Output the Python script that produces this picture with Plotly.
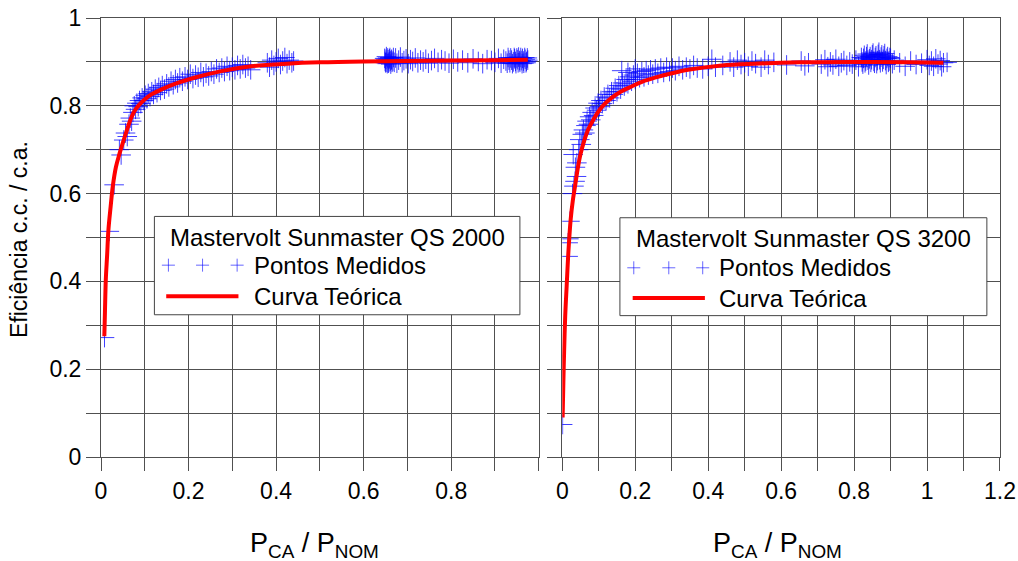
import plotly.graph_objects as go

# ---------------- data ----------------
# Left: Mastervolt Sunmaster QS 2000
curve_l_x = [0.0076, 0.009, 0.011, 0.014, 0.017, 0.022, 0.027, 0.034, 0.042, 0.05, 0.057,
             0.066, 0.076, 0.087, 0.099, 0.115, 0.137, 0.175, 0.213, 0.275, 0.343, 0.426,
             0.5, 0.6, 0.7, 0.8, 0.9, 0.975]
curve_l_y = [0.275, 0.33, 0.404, 0.46, 0.518, 0.57, 0.617, 0.66, 0.69, 0.716, 0.738,
             0.765, 0.787, 0.802, 0.814, 0.826, 0.837, 0.852, 0.864, 0.879, 0.89, 0.896,
             0.899, 0.901, 0.902, 0.903, 0.904, 0.905]

meas_l = [
    (0.008, 0.272), (0.019, 0.514), (0.030, 0.620), (0.042, 0.700), (0.046, 0.688),
    (0.052, 0.722), (0.056, 0.738), (0.060, 0.730), (0.064, 0.758), (0.067, 0.772),
    (0.070, 0.765), (0.073, 0.785), (0.076, 0.800), (0.079, 0.792), (0.082, 0.806),
    (0.085, 0.798), (0.088, 0.812), (0.091, 0.805), (0.094, 0.818), (0.098, 0.812),
    (0.101, 0.824), (0.105, 0.816), (0.108, 0.828), (0.112, 0.821), (0.116, 0.832),
    (0.120, 0.826), (0.124, 0.838), (0.128, 0.830), (0.132, 0.842), (0.136, 0.835),
    (0.140, 0.846), (0.145, 0.838), (0.150, 0.850), (0.155, 0.843), (0.160, 0.856),
    (0.165, 0.848), (0.170, 0.860), (0.175, 0.852), (0.180, 0.864), (0.186, 0.856),
    (0.192, 0.866), (0.198, 0.860), (0.204, 0.872), (0.210, 0.862), (0.216, 0.870),
    (0.222, 0.865), (0.228, 0.876), (0.234, 0.866), (0.240, 0.874), (0.246, 0.868),
    (0.252, 0.878), (0.258, 0.872), (0.264, 0.884), (0.270, 0.876), (0.276, 0.886),
    (0.282, 0.878), (0.288, 0.890), (0.294, 0.880), (0.300, 0.888), (0.306, 0.882),
    (0.312, 0.892), (0.318, 0.884), (0.324, 0.894), (0.330, 0.886), (0.336, 0.890),
    (0.342, 0.882), (0.380, 0.898), (0.385, 0.888), (0.390, 0.904), (0.395, 0.892),
    (0.400, 0.900), (0.405, 0.908), (0.410, 0.894), (0.415, 0.902), (0.420, 0.910),
    (0.425, 0.896), (0.430, 0.904), (0.436, 0.898), (0.440, 0.902),
    (0.648, 0.908), (0.649, 0.901), (0.650, 0.898), (0.651, 0.906), (0.652, 0.912),
    (0.653, 0.899), (0.654, 0.896), (0.655, 0.909), (0.656, 0.905), (0.657, 0.897),
    (0.658, 0.900), (0.659, 0.907), (0.660, 0.910), (0.661, 0.902), (0.662, 0.895),
    (0.663, 0.904), (0.664, 0.906), (0.665, 0.899), (0.667, 0.902), (0.668, 0.910),
    (0.670, 0.899), (0.673, 0.909), (0.676, 0.897), (0.680, 0.904), (0.684, 0.911),
    (0.688, 0.898), (0.692, 0.903), (0.697, 0.907), (0.702, 0.896), (0.707, 0.905),
    (0.712, 0.901), (0.718, 0.909), (0.724, 0.898), (0.730, 0.904), (0.736, 0.900),
    (0.742, 0.906), (0.748, 0.897), (0.755, 0.903), (0.762, 0.908), (0.770, 0.899),
    (0.778, 0.905), (0.786, 0.902), (0.795, 0.897), (0.805, 0.906), (0.815, 0.900),
    (0.826, 0.904), (0.838, 0.898), (0.850, 0.907), (0.862, 0.901), (0.872, 0.896),
    (0.882, 0.905), (0.892, 0.903), (0.900, 0.899), (0.908, 0.908), (0.914, 0.897),
    (0.920, 0.906), (0.925, 0.902), (0.928, 0.897), (0.930, 0.910), (0.932, 0.904),
    (0.934, 0.898), (0.936, 0.909), (0.938, 0.904), (0.940, 0.896), (0.942, 0.900),
    (0.944, 0.910), (0.945, 0.907), (0.947, 0.901), (0.948, 0.896), (0.950, 0.909),
    (0.951, 0.905), (0.953, 0.898), (0.954, 0.911), (0.956, 0.903), (0.957, 0.899),
    (0.959, 0.910), (0.960, 0.903), (0.962, 0.896), (0.963, 0.908), (0.965, 0.902),
    (0.966, 0.897), (0.968, 0.910), (0.969, 0.906), (0.971, 0.898), (0.972, 0.901),
    (0.974, 0.909), (0.975, 0.904),
]

# Right: Mastervolt Sunmaster QS 3200
curve_r_x = [0.001, 0.003, 0.005, 0.008, 0.012, 0.017, 0.023, 0.029, 0.035, 0.042, 0.05,
             0.06, 0.071, 0.085, 0.099, 0.115, 0.135, 0.16, 0.19, 0.22, 0.254, 0.3, 0.345,
             0.437, 0.528, 0.65, 0.8, 0.95, 1.045]
curve_r_y = [0.09, 0.17, 0.238, 0.32, 0.389, 0.47, 0.541, 0.585, 0.617, 0.655, 0.69,
             0.72, 0.746, 0.768, 0.787, 0.803, 0.818, 0.832, 0.844, 0.855, 0.864, 0.874,
             0.882, 0.892, 0.896, 0.899, 0.9, 0.899, 0.898]

meas_r = [
    (0.001, 0.074), (0.016, 0.457), (0.016, 0.488), (0.018, 0.497), (0.021, 0.537),
    (0.028, 0.600), (0.032, 0.617), (0.035, 0.628), (0.039, 0.639), (0.036, 0.660),
    (0.040, 0.670), (0.030, 0.689), (0.045, 0.700), (0.048, 0.723), (0.052, 0.712),
    (0.055, 0.735), (0.058, 0.745), (0.062, 0.738), (0.065, 0.755), (0.068, 0.765),
    (0.072, 0.758), (0.075, 0.775), (0.078, 0.768), (0.082, 0.785), (0.086, 0.778),
    (0.090, 0.795), (0.094, 0.790), (0.098, 0.806), (0.102, 0.798), (0.106, 0.812),
    (0.110, 0.805), (0.115, 0.820), (0.120, 0.812), (0.125, 0.826), (0.130, 0.818),
    (0.135, 0.832), (0.140, 0.826), (0.145, 0.840), (0.150, 0.832), (0.155, 0.846),
    (0.160, 0.838), (0.163, 0.880), (0.165, 0.852), (0.170, 0.845), (0.175, 0.860),
    (0.180, 0.850), (0.180, 0.876), (0.185, 0.866), (0.190, 0.856), (0.195, 0.870),
    (0.200, 0.860), (0.200, 0.884), (0.206, 0.874), (0.212, 0.864), (0.218, 0.878),
    (0.224, 0.866), (0.230, 0.880), (0.236, 0.870), (0.242, 0.882), (0.248, 0.872),
    (0.255, 0.884), (0.262, 0.874), (0.270, 0.886), (0.278, 0.876), (0.286, 0.888),
    (0.294, 0.878), (0.302, 0.886), (0.310, 0.880), (0.320, 0.890), (0.330, 0.882),
    (0.340, 0.888), (0.350, 0.884), (0.360, 0.892), (0.370, 0.886), (0.385, 0.884),
    (0.400, 0.890), (0.410, 0.906), (0.420, 0.888),
    (0.440, 0.892), (0.460, 0.900), (0.470, 0.888), (0.480, 0.904), (0.490, 0.894),
    (0.500, 0.898), (0.510, 0.890), (0.520, 0.902), (0.530, 0.896), (0.545, 0.888),
    (0.555, 0.904), (0.565, 0.894), (0.580, 0.899), (0.615, 0.893), (0.655, 0.902),
    (0.665, 0.891), (0.675, 0.898), (0.710, 0.895), (0.720, 0.905), (0.728, 0.889),
    (0.735, 0.900), (0.742, 0.893), (0.750, 0.906), (0.758, 0.890), (0.765, 0.898),
    (0.772, 0.903), (0.780, 0.892), (0.788, 0.900), (0.795, 0.895), (0.805, 0.904),
    (0.812, 0.889),
    (0.820, 0.910), (0.822, 0.900), (0.824, 0.895), (0.826, 0.908), (0.828, 0.915),
    (0.830, 0.898), (0.832, 0.902), (0.834, 0.912), (0.836, 0.918), (0.838, 0.904),
    (0.840, 0.893), (0.842, 0.907), (0.844, 0.912), (0.846, 0.899), (0.848, 0.905),
    (0.850, 0.916), (0.852, 0.920), (0.854, 0.901), (0.856, 0.897), (0.858, 0.910),
    (0.860, 0.914), (0.862, 0.896), (0.864, 0.903), (0.866, 0.917), (0.868, 0.922),
    (0.870, 0.905), (0.872, 0.898), (0.874, 0.911), (0.876, 0.916), (0.878, 0.900),
    (0.880, 0.906), (0.882, 0.914), (0.884, 0.919), (0.886, 0.903), (0.888, 0.894),
    (0.890, 0.908), (0.892, 0.912), (0.894, 0.899), (0.896, 0.902), (0.898, 0.910),
    (0.900, 0.908), (0.905, 0.896), (0.910, 0.904),
    (0.925, 0.898), (0.940, 0.890), (0.955, 0.902), (0.970, 0.894), (0.985, 0.897),
    (1.000, 0.905), (1.006, 0.892), (1.012, 0.902), (1.018, 0.890), (1.024, 0.907),
    (1.030, 0.895), (1.036, 0.903), (1.040, 0.889), (1.045, 0.898), (1.055, 0.899),
]

y_ticks = [0, 0.2, 0.4, 0.6, 0.8, 1]
y_ticktext = ["0", "0.2", "0.4", "0.6", "0.8", "1"]
y_minor = [0.1, 0.3, 0.5, 0.7, 0.9]
xl_ticks = [0, 0.2, 0.4, 0.6, 0.8]
xl_ticktext = ["0", "0.2", "0.4", "0.6", "0.8"]
xl_minor = [0.1, 0.3, 0.5, 0.7, 0.9, 1.0]
xr_ticks = [0, 0.2, 0.4, 0.6, 0.8, 1.0, 1.2]
xr_ticktext = ["0", "0.2", "0.4", "0.6", "0.8", "1", "1.2"]
xr_minor = [0.1, 0.3, 0.5, 0.7, 0.9, 1.1]

legend_titles = ["Mastervolt Sunmaster QS 2000", "Mastervolt Sunmaster QS 3200"]
label_meas = "Pontos Medidos"
label_curve = "Curva Teórica"
x_title = "P<sub>CA</sub> / P<sub>NOM</sub>"
y_title = "Eficiência c.c. / c.a."

# ---------------- styles ----------------
FONT = "Liberation Sans, Arial, sans-serif"
BLUE = "rgba(0,0,255,0.75)"
BLUE_LEG = "rgba(0,0,255,0.6)"
GRID = "#505050"

fig = go.Figure()

fig.add_trace(go.Scatter(x=[p[0] for p in meas_l], y=[p[1] for p in meas_l], mode="markers",
                         marker=dict(symbol="cross-thin", size=14, line=dict(width=1, color=BLUE)),
                         xaxis="x", yaxis="y", showlegend=False))
fig.add_trace(go.Scatter(x=curve_l_x, y=curve_l_y, mode="lines", line=dict(color="red", width=4, shape="spline"),
                         xaxis="x", yaxis="y", showlegend=False))
fig.add_trace(go.Scatter(x=[p[0] for p in meas_r], y=[p[1] for p in meas_r], mode="markers",
                         marker=dict(symbol="cross-thin", size=14, line=dict(width=1, color=BLUE)),
                         xaxis="x2", yaxis="y2", showlegend=False))
fig.add_trace(go.Scatter(x=curve_r_x, y=curve_r_y, mode="lines", line=dict(color="red", width=4, shape="spline"),
                         xaxis="x2", yaxis="y2", showlegend=False))

tickfont = dict(family=FONT, size=23, color="black")

def xaxis(domain, rng, ticks, ttext, minor, anchor):
    return dict(domain=domain, range=rng, anchor=anchor, automargin=False,
                tickmode="array", tickvals=ticks, ticktext=ttext,
                ticks="outside", ticklen=13, tickcolor=GRID, tickfont=tickfont,
                showgrid=True, gridcolor=GRID, gridwidth=1, zeroline=False,
                showline=True, linecolor=GRID, mirror=True,
                minor=dict(tickmode="array", tickvals=minor, ticks="outside", ticklen=13,
                           tickcolor=GRID, showgrid=True, gridcolor=GRID, gridwidth=1))

def yaxis(anchor, labels):
    return dict(domain=[0, 1], range=[0, 1], anchor=anchor, automargin=False,
                tickmode="array", tickvals=y_ticks,
                ticktext=y_ticktext, showticklabels=labels,
                ticks="outside", ticklen=14, tickcolor=GRID, tickfont=tickfont,
                showgrid=True, gridcolor=GRID, gridwidth=1, zeroline=False,
                showline=True, linecolor=GRID, mirror=True,
                minor=dict(tickmode="array", tickvals=y_minor, ticks="outside", ticklen=14,
                           tickcolor=GRID, showgrid=True, gridcolor=GRID, gridwidth=1))

shapes = []
annotations = []
legend_font = dict(family=FONT, size=24, color="black")

# legend boxes (positions in each panel's data units)
legends = [
    dict(xr="x", yr="y", box=(0.122, 0.957, 0.324, 0.548), title=(0.54, 0.501),
         plus=[0.154, 0.232, 0.311], plus_y=0.437, text_x=0.345, line=(0.149, 0.314),
         line_y=0.366, dx=0.0149, dy=0.0148, title_text=legend_titles[0]),
    dict(xr="x2", yr="y2", box=(0.158, 1.164, 0.322, 0.545), title=(0.661, 0.497),
         plus=[0.196, 0.292, 0.385], plus_y=0.431, text_x=0.425, line=(0.193, 0.391),
         line_y=0.362, dx=0.0178, dy=0.0148, title_text=legend_titles[1]),
]
for lg in legends:
    x0, x1, y0, y1 = lg["box"]
    shapes.append(dict(type="rect", xref=lg["xr"], yref=lg["yr"], x0=x0, x1=x1, y0=y0, y1=y1,
                       fillcolor="white", line=dict(color="#444444", width=1), layer="above"))
    for px in lg["plus"]:
        shapes.append(dict(type="line", xref=lg["xr"], yref=lg["yr"], x0=px - lg["dx"], x1=px + lg["dx"],
                           y0=lg["plus_y"], y1=lg["plus_y"], line=dict(color=BLUE_LEG, width=1), layer="above"))
        shapes.append(dict(type="line", xref=lg["xr"], yref=lg["yr"], x0=px, x1=px,
                           y0=lg["plus_y"] - lg["dy"], y1=lg["plus_y"] + lg["dy"],
                           line=dict(color=BLUE_LEG, width=1), layer="above"))
    shapes.append(dict(type="line", xref=lg["xr"], yref=lg["yr"], x0=lg["line"][0], x1=lg["line"][1],
                       y0=lg["line_y"], y1=lg["line_y"], line=dict(color="red", width=4), layer="above"))
    annotations.append(dict(xref=lg["xr"], yref=lg["yr"], x=lg["title"][0], y=lg["title"][1],
                            text=lg["title_text"], showarrow=False, xanchor="center", yanchor="middle",
                            font=legend_font))
    annotations.append(dict(xref=lg["xr"], yref=lg["yr"], x=lg["text_x"], y=lg["plus_y"],
                            text=label_meas, showarrow=False, xanchor="left", yanchor="middle",
                            font=legend_font))
    annotations.append(dict(xref=lg["xr"], yref=lg["yr"], x=lg["text_x"], y=lg["line_y"],
                            text=label_curve, showarrow=False, xanchor="left", yanchor="middle",
                            font=legend_font))

# axis titles
annotations.append(dict(xref="paper", yref="paper", x=-0.092, y=0.495, text=y_title, textangle=-90,
                        showarrow=False, xanchor="center", yanchor="middle",
                        font=dict(family=FONT, size=23, color="black")))
for xc in (0.238, 0.753):
    annotations.append(dict(xref="paper", yref="paper", x=xc, y=-0.20, text=x_title,
                            showarrow=False, xanchor="center", yanchor="middle",
                            font=dict(family=FONT, size=27, color="black")))

fig.update_layout(
    width=1018, height=561,
    margin=dict(l=101, r=18, t=18, b=104, autoexpand=False),
    paper_bgcolor="white", plot_bgcolor="white",
    xaxis=xaxis([0, 0.4869], [0, 1.0], xl_ticks, xl_ticktext, xl_minor, "y"),
    xaxis2=xaxis([0.5131, 1], [0, 1.2], xr_ticks, xr_ticktext, xr_minor, "y2"),
    yaxis=yaxis("x", True),
    yaxis2=yaxis("x2", False),
    shapes=shapes, annotations=annotations,
    font=dict(family=FONT, color="black"),
    showlegend=False,
)

fig.write_html("out.html")
